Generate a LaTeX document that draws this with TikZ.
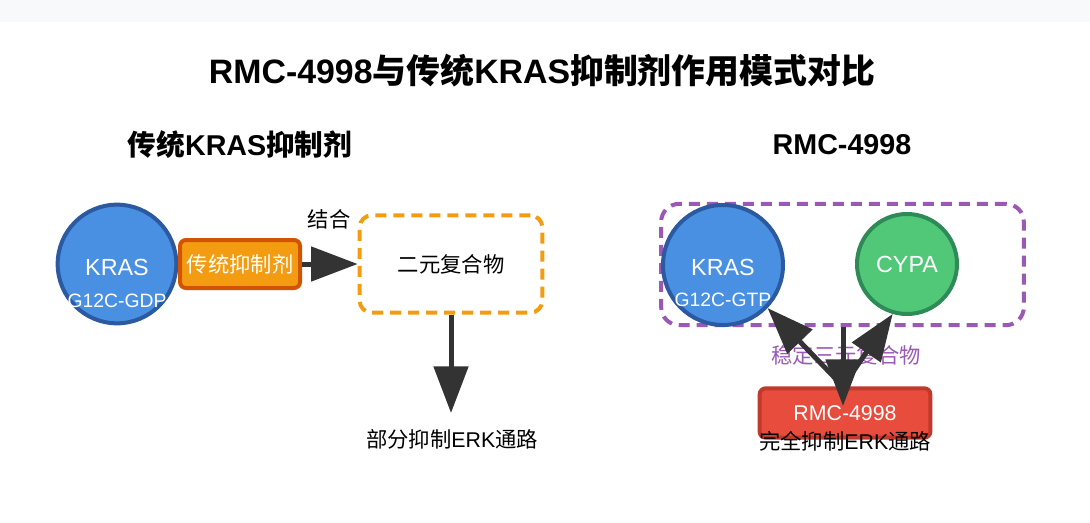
\documentclass[tikz,border=0pt]{standalone}
\usepackage{fontspec}
\setmainfont{Liberation Sans}
\newfontfamily\cjk{Noto Sans CJK SC}
\newcommand{\zh}[1]{{\cjk #1}}
\usepackage{xcolor}
\usetikzlibrary{arrows.meta, positioning}
\definecolor{krasblue}{HTML}{4A90E2}
\definecolor{krasedge}{HTML}{2C5AA0}
\definecolor{drugorange}{HTML}{F39C12}
\definecolor{drugedge}{HTML}{D35400}
\definecolor{cypagreen}{HTML}{50C878}
\definecolor{cypaedge}{HTML}{2E8B57}
\definecolor{rmcred}{HTML}{E74C3C}
\definecolor{rmcedge}{HTML}{C0392B}
\definecolor{complexpurple}{HTML}{9B59B6}
\definecolor{arrowgray}{HTML}{333333}
\definecolor{bandgray}{HTML}{F8F9FA}

\begin{document}
\begin{tikzpicture}[x=0.75pt,y=-0.75pt,>={Triangle[length=35pt,width=25.5pt]},
        font=\fontsize{16pt}{19pt}\selectfont,
        every node/.style={inner sep=0pt},
        protein/.style={circle,line width=3pt,text=white,minimum size=89pt},
        proteinname/.style={text=white,font=\fontsize{17.5pt}{20pt}\selectfont},
        mutation/.style={text=white,font=\fontsize{14.5pt}{17pt}\selectfont},
        drugbox/.style={rectangle,rounded corners=4.5pt,line width=3pt,text=white},
        complexbox/.style={rectangle,rounded corners=9pt,line width=3pt,dash pattern=on 8.25pt off 5.25pt},
        flow/.style={->,draw=arrowgray,line width=3.75pt},
        heading/.style={font=\fontsize{21.5pt}{25pt}\selectfont\bfseries}]

    \useasboundingbox (0,0) rectangle (1090,522);
    \fill[bandgray] (0,0) rectangle (1090,22);

    \node[font=\fontsize{25.4pt}{30pt}\selectfont\bfseries] (title) at (542,71)
        {RMC-4998\zh{与传统}KRAS\zh{抑制剂作用模式对比}};
    \node[heading] (headL) at (240,145) {\zh{传统}KRAS\zh{抑制剂}};
    \node[heading] (headR) at (842,145) {RMC-4998};

    % traditional inhibitor
    \node[protein,fill=krasblue,draw=krasedge] (krasL) at (117,264) {};
    \node[proteinname] (krasLname) at (117,267) {KRAS};
    \node[mutation] (krasLmut) at (117,301) {G12C-GDP};
    \node[drugbox,fill=drugorange,draw=drugedge,minimum width=90pt,minimum height=36pt] (inhibL) at (240,264) {\zh{传统抑制剂}};
    \node[complexbox,draw=drugorange,minimum width=137pt,minimum height=73pt] (binaryL) at (451,264) {\zh{二元复合物}};
    \node (bindL) at (329,219) {\zh{结合}};
    \coordinate (tipL) at (451,413);
    \node (partialL) at (452,439) {\zh{部分抑制}ERK\zh{通路}};

    \draw[flow] (inhibL) -- (binaryL);
    \draw[flow] (binaryL) -- (tipL);

    % RMC-4998
    \node[complexbox,draw=complexpurple,rounded corners=13.5pt,minimum width=272pt,minimum height=91pt] (ternaryR) at (842.5,264.5) {};
    \node[protein,fill=krasblue,draw=krasedge,minimum size=90pt] (krasR) at (723,265) {};
    \node[proteinname] (krasRname) at (723,267) {KRAS};
    \node[mutation] (krasRmut) at (723,300) {G12C-GTP};
    \node[protein,proteinname,fill=cypagreen,draw=cypaedge,minimum size=75pt] (cypaR) at (907,264) {CYPA};
    \node[text=complexpurple] (stableR) at (846,355) {\zh{稳定三元复合物}};
    \node[drugbox,fill=rmcred,draw=rmcedge,minimum width=128pt,minimum height=37pt] (rmcR) at (845,413) {RMC-4998};
    \node (fullR) at (845,441) {\zh{完全抑制}ERK\zh{通路}};
    \coordinate (tipR) at (843,406);

    \draw[flow] (ternaryR.south -| tipR) -- (tipR);
    \draw[flow] (rmcR.north -| tipR) -- (krasR.-44);
    \draw[flow] (rmcR.north -| tipR) -- (cypaR.-106);
\end{tikzpicture}
\end{document}
